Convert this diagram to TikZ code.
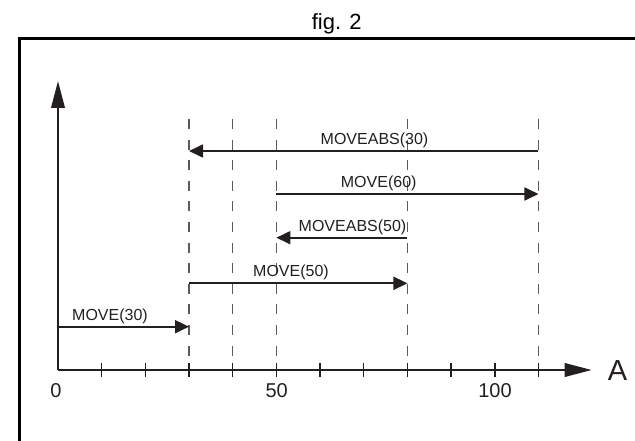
\documentclass[tikz,border=0pt]{standalone}
\usepackage{fontspec}
\setmainfont{Liberation Sans}
\usetikzlibrary{arrows.meta}
\definecolor{ink}{HTML}{231F20}
\definecolor{guide}{HTML}{5A5A5A}
\begin{document}
\begin{tikzpicture}[x=1pt,y=-1pt,
  frameline/.style={black, line width=3pt},
  axis/.style={ink, line width=2.2pt, -{Triangle[length=27pt,width=13.5pt]}},
  mv/.style={ink, line width=1.8pt, -{Triangle[length=14pt,width=13pt]}},
  guideline/.style={guide, line width=1.2pt, dash pattern=on 10pt off 10.6pt},
  tickmark/.style={ink, line width=1.4pt},
  lbl/.style={font=\fontsize{16}{18}\selectfont, inner sep=0pt, anchor=base, text=ink},
  num/.style={font=\fontsize{20}{22}\selectfont, inner sep=0pt, anchor=base, text=ink},
]
\useasboundingbox (0,0) rectangle (635,441);
% title
\node[font=\fontsize{22}{24}\selectfont, inner sep=0pt, anchor=base] (title) at (336.7,29.3) {fig. 2};
% frame
\coordinate (fbl) at (19,441);
\coordinate (ftl) at (19,39);
\coordinate (ftr) at (635,39);
\draw[frameline] (fbl) -- (ftl) -- (ftr);
% axes
\coordinate (O) at (58,370);
\coordinate (ytip) at (58,81);
\coordinate (xtip) at (591.7,370);
% dashed guide lines
\foreach \v in {30,40,50,80,110}{
  \coordinate (t\v) at ({58+4.368*\v},119);
  \coordinate (b\v) at ({58+4.368*\v},370);
  \draw[guideline] (t\v) -- (b\v);
}
% ticks
\foreach \v in {10,20,...,110}{
  \coordinate (ku\v) at ({58+4.368*\v},363);
  \coordinate (kd\v) at ({58+4.368*\v},377);
  \draw[tickmark] (ku\v) -- (kd\v);
}
\draw[axis] (O) -- (ytip);
\draw[axis] (O) -- (xtip);
\node[font=\fontsize{29}{31}\selectfont, inner sep=0pt, text=ink] (A) at (617.5,371) {A};
\node[num] (n0) at (56,397) {0};
\node[num] (n50) at (276.7,397) {50};
\node[num] (n100) at (495,397) {100};
% moves
\coordinate (a1s) at ({58+4.368*110},151);
\coordinate (a1e) at ({58+4.368*30},151);
\coordinate (a2s) at ({58+4.368*50},194);
\coordinate (a2e) at ({58+4.368*110},194);
\coordinate (a3s) at ({58+4.368*80},237.7);
\coordinate (a3e) at ({58+4.368*50},237.7);
\coordinate (a4s) at ({58+4.368*30},283.3);
\coordinate (a4e) at ({58+4.368*80},283.3);
\coordinate (a5s) at (58,326.7);
\coordinate (a5e) at ({58+4.368*30},326.7);
\draw[mv] (a1s) -- (a1e);
\draw[mv] (a2s) -- (a2e);
\draw[mv] (a3s) -- (a3e);
\draw[mv] (a4s) -- (a4e);
\draw[mv] (a5s) -- (a5e);
\node[lbl] (l1) at (374.5,144.5) {MOVEABS(30)};
\node[lbl] (l2) at (378.7,187.5) {MOVE(60)};
\node[lbl] (l3) at (352.5,231.2) {MOVEABS(50)};
\node[lbl] (l4) at (291,276.8) {MOVE(50)};
\node[lbl] (l5) at (110,320.2) {MOVE(30)};
\end{tikzpicture}
\end{document}
